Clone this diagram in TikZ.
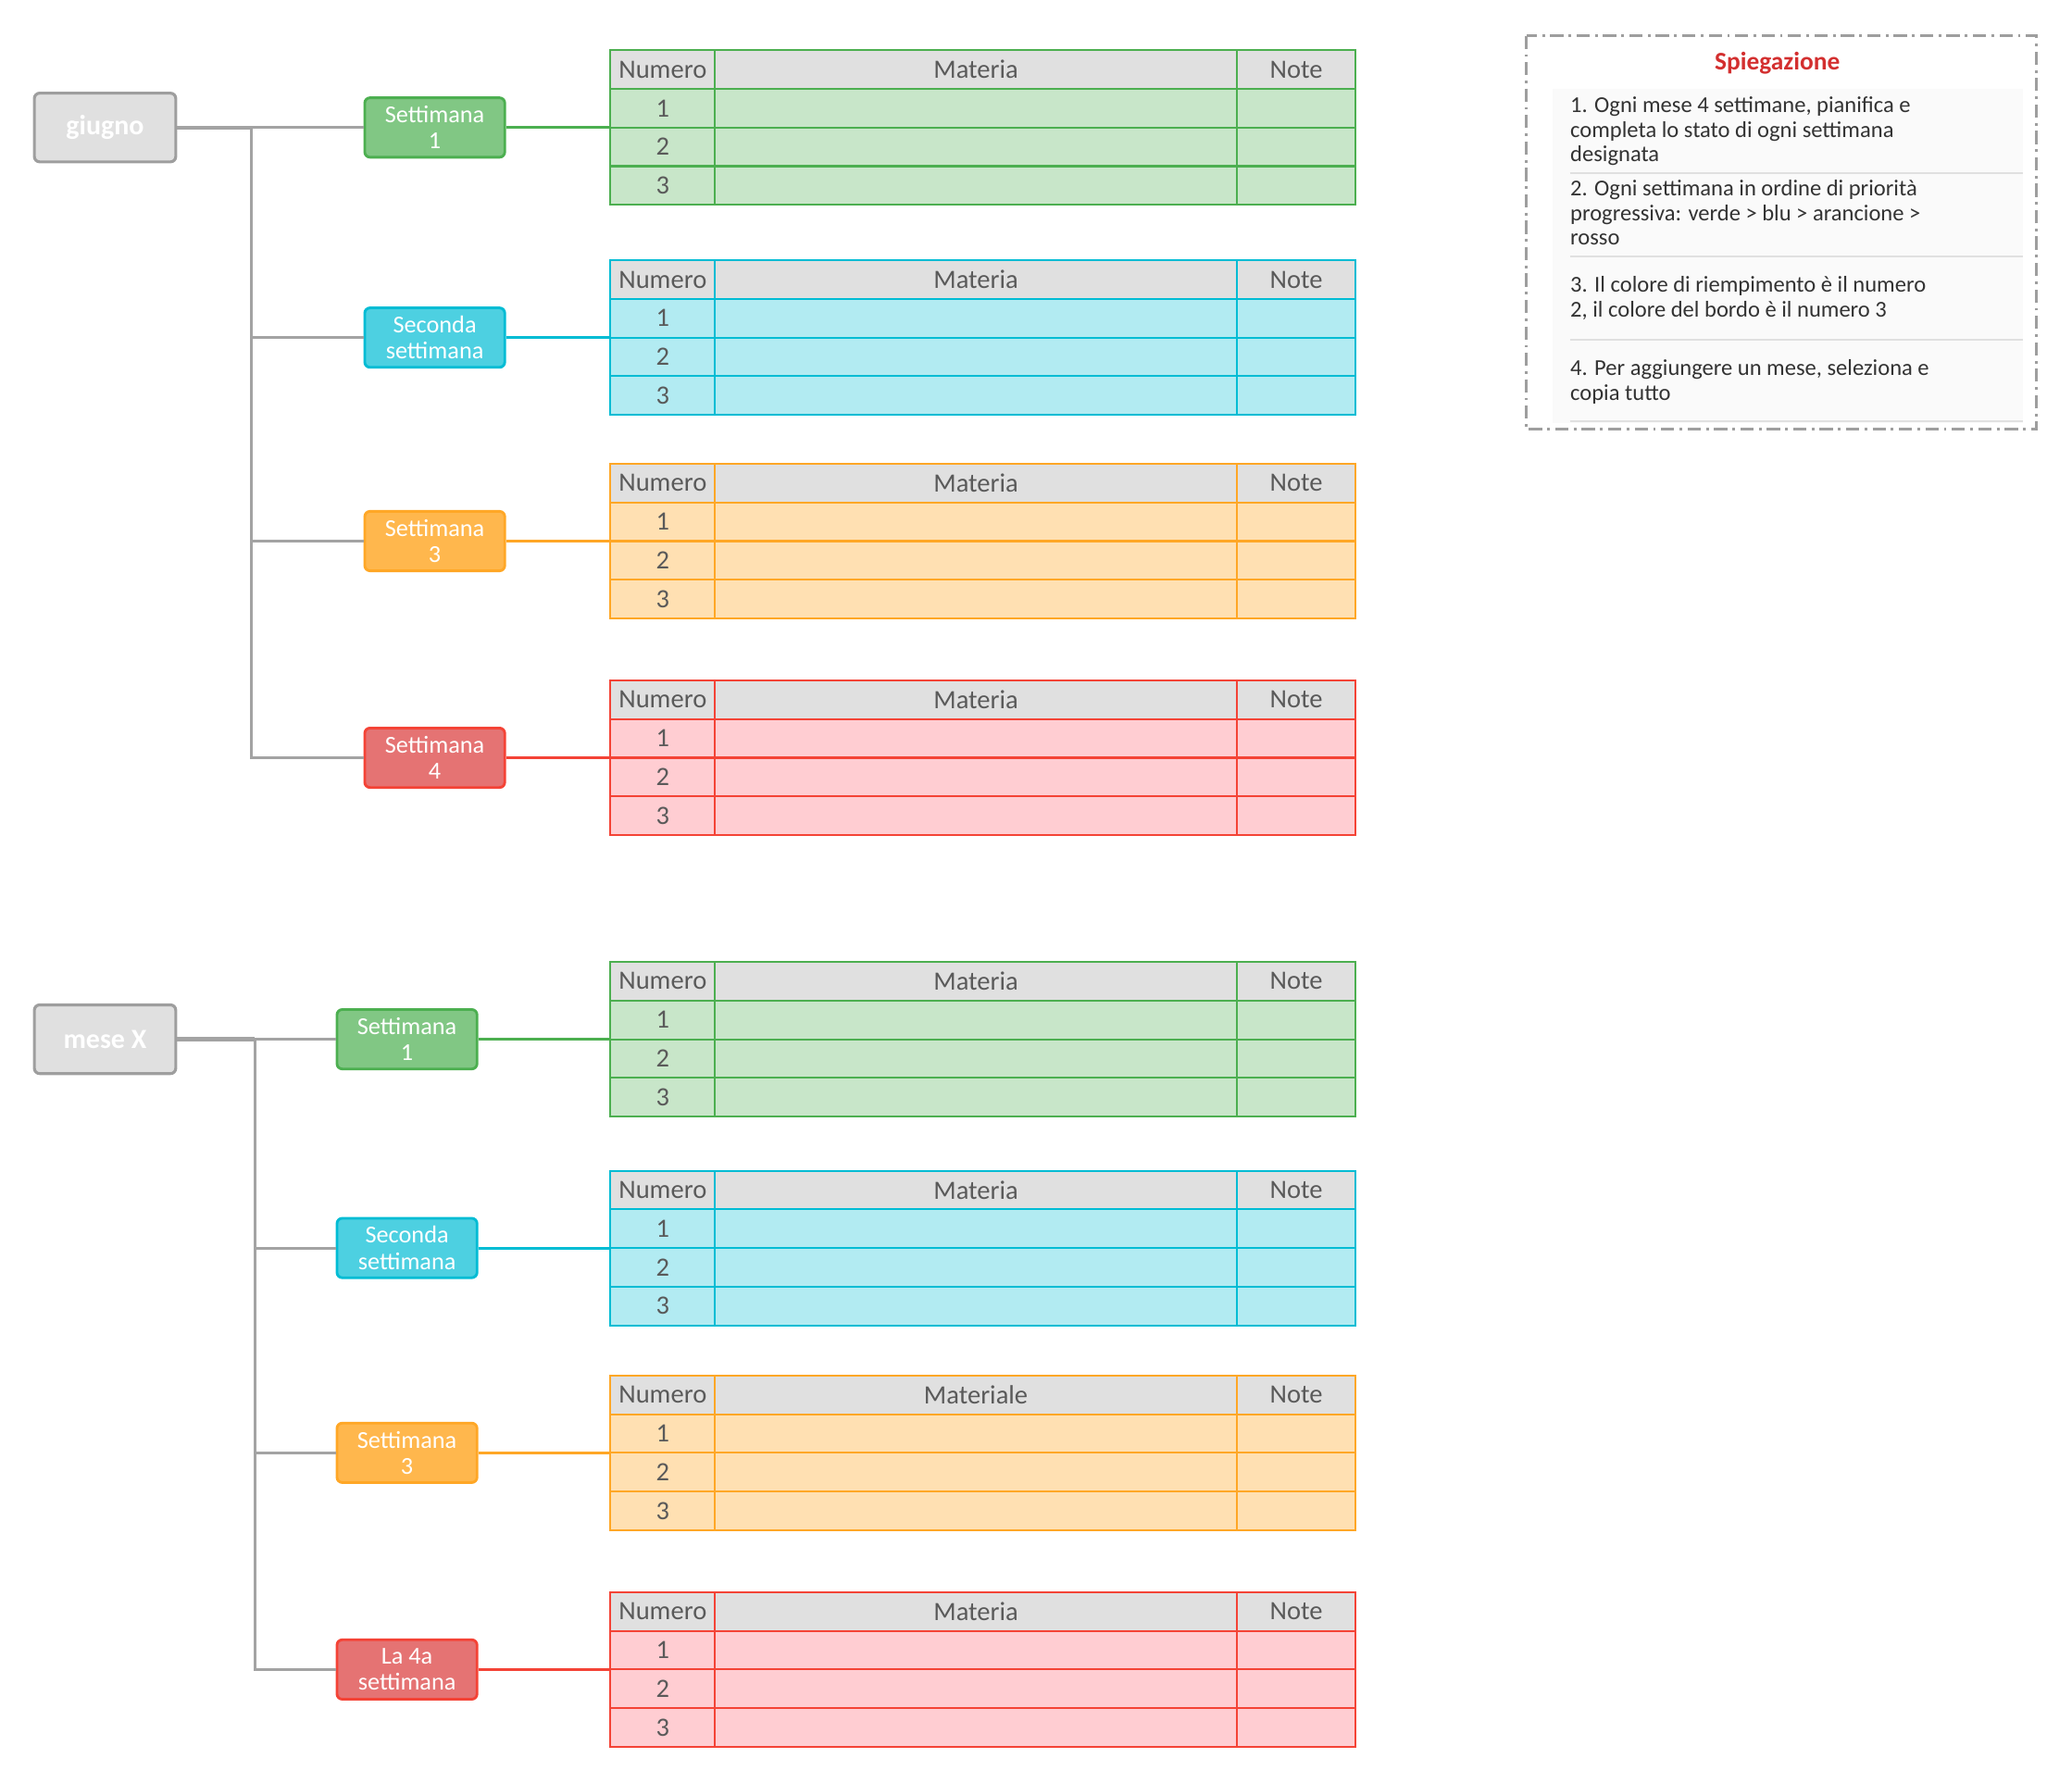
\documentclass[tikz,border=0pt]{standalone}
\usepackage{fontspec}
\setmainfont{Carlito}
\usepackage{xcolor}
\usepackage{tikz}
\usetikzlibrary{positioning,calc}

\definecolor{hdrgray}{HTML}{E0E0E0}
\definecolor{txtgray}{HTML}{5A5A5A}
\definecolor{rootfill}{HTML}{E0E0E0}
\definecolor{rootedge}{HTML}{9E9E9E}
\definecolor{linkgray}{HTML}{A3A3A3}
\definecolor{gBox}{HTML}{81C784}
\definecolor{gLine}{HTML}{4CAF50}
\definecolor{gCell}{HTML}{C8E6C9}
\definecolor{cBox}{HTML}{4DD0E1}
\definecolor{cLine}{HTML}{00BCD4}
\definecolor{cCell}{HTML}{B2EBF2}
\definecolor{oBox}{HTML}{FFB74D}
\definecolor{oLine}{HTML}{FFA726}
\definecolor{oCell}{HTML}{FFE0B2}
\definecolor{rBox}{HTML}{E57373}
\definecolor{rLine}{HTML}{F44336}
\definecolor{rCell}{HTML}{FFCDD2}
\definecolor{noteRed}{HTML}{D32F2F}
\definecolor{noteText}{HTML}{333333}

% one week table: name, top, colour prefix, middle header
\newcommand{\weektab}[4]{%
  \begin{scope}[shift={(0,#2)}]
    \fill[hdrgray] (462,0) rectangle (1026,29.25);
    \fill[#3Cell] (462,29.25) rectangle (1026,117);
    \foreach \k in {1,2,3} \draw[#3Line, tabline] (462,{29.25*\k}) -- (1026,{29.25*\k});
    \draw[#3Line, tabline] (541,0) -- (541,117) (936,0) -- (936,117);
    \draw[#3Line, tabline] (462,0) rectangle (1026,117);
    \node[tabtext] at (501.5,14.6) {Numero};
    \node[tabtext] at (738.5,14.6) {#4};
    \node[tabtext] at (981,14.6) {Note};
    \foreach \k in {1,2,3} \node[tabtext] at (501.5,{29.25*\k+14.6}) {\k};
    \coordinate (#1) at (462,58.5);
  \end{scope}}

\begin{document}
\begin{tikzpicture}[x=0.5pt, y=-0.5pt,
  tabline/.style={line width=0.75pt},
  tabtext/.style={text=txtgray, font=\fontsize{10}{12}\selectfont, inner sep=0pt},
  rootbox/.style={draw=rootedge, fill=rootfill, line width=1.1pt, rounded corners=2pt,
    minimum width=53.5pt, minimum height=26pt, text=white, font=\bfseries\fontsize{10.5}{12}\selectfont},
  weekbox/.style={line width=1pt, rounded corners=2pt, minimum width=53pt, minimum height=22.5pt,
    inner sep=0pt, align=center, text=white, font=\fontsize{9.2}{9.9}\selectfont},
  rootlink/.style={linkgray, line width=1.5pt},
  branch/.style={linkgray, line width=1.1pt},
  link/.style={line width=1pt},
  legtext/.style={anchor=north west, inner sep=0pt, align=left, text=noteText,
    font=\fontsize{8.6}{9.25}\selectfont}]

\useasboundingbox (0,0) rectangle (1568,1349);

% month giugno
\node[rootbox] (giugno) at (79.5,96.5) {giugno};
\coordinate (gtrunk) at (190,96.5);
\node[weekbox, fill=gBox, draw=gLine] (gw1) at (329,96.5) {Settimana\\1};
\node[weekbox, fill=cBox, draw=cLine] (gw2) at (329,255.5) {Seconda\\settimana};
\node[weekbox, fill=oBox, draw=oLine] (gw3) at (329,409.5) {Settimana\\3};
\node[weekbox, fill=rBox, draw=rLine] (gw4) at (329,573.5) {Settimana\\4};
\weektab{gt1}{38}{g}{Materia}
\weektab{gt2}{197}{c}{Materia}
\weektab{gt3}{351}{o}{Materia}
\weektab{gt4}{515}{r}{Materia}
\draw[rootlink] (giugno.east) -- (gtrunk);
\draw[branch] (gtrunk) -- (gw1.west);
\draw[branch] (gtrunk) |- (gw2.west);
\draw[branch] (gtrunk) |- (gw3.west);
\draw[branch] (gtrunk) |- (gw4.west);
\draw[gLine, link] (gw1.east) -- (gt1);
\draw[cLine, link] (gw2.east) -- (gt2);
\draw[oLine, link] (gw3.east) -- (gt3);
\draw[rLine, link] (gw4.east) -- (gt4);

% month X
\node[rootbox] (meseX) at (79.5,786.5) {mese X};
\coordinate (xtrunk) at (193,786.5);
\node[weekbox, fill=gBox, draw=gLine] (xw1) at (308,786.5) {Settimana\\1};
\node[weekbox, fill=cBox, draw=cLine] (xw2) at (308,944.5) {Seconda\\settimana};
\node[weekbox, fill=oBox, draw=oLine] (xw3) at (308,1099.5) {Settimana\\3};
\node[weekbox, fill=rBox, draw=rLine] (xw4) at (308,1263.5) {La 4a\\settimana};
\weektab{xt1}{728}{g}{Materia}
\weektab{xt2}{886}{c}{Materia}
\weektab{xt3}{1041}{o}{Materiale}
\weektab{xt4}{1205}{r}{Materia}
\draw[rootlink] (meseX.east) -- (xtrunk);
\draw[branch] (xtrunk) -- (xw1.west);
\draw[branch] (xtrunk) |- (xw2.west);
\draw[branch] (xtrunk) |- (xw3.west);
\draw[branch] (xtrunk) |- (xw4.west);
\draw[gLine, link] (xw1.east) -- (xt1);
\draw[cLine, link] (xw2.east) -- (xt2);
\draw[oLine, link] (xw3.east) -- (xt3);
\draw[rLine, link] (xw4.east) -- (xt4);

% legend
\draw[rootedge, line width=1pt, dash pattern=on 5pt off 2pt on 1pt off 2pt] (1155,27) rectangle (1541,325);
\fill[black!2] (1175,67) rectangle (1531,320);
\node[text=noteRed, font=\bfseries\fontsize{9.6}{11}\selectfont] (legtitle) at (1345,48) {Spiegazione};
\foreach \yy in {131,194,257,319} \draw[hdrgray, line width=0.6pt] (1188,\yy) -- (1531,\yy);
\node[legtext] (leg1) at (1188,73) {1. Ogni mese 4 settimane, pianifica e\\completa lo stato di ogni settimana\\designata};
\node[legtext] (leg2) at (1188,136) {2. Ogni settimana in ordine di priorità\\progressiva: verde > blu > arancione >\\rosso};
\node[legtext] (leg3) at (1188,209) {3. Il colore di riempimento è il numero\\2, il colore del bordo è il numero 3};
\node[legtext] (leg4) at (1188,272) {4. Per aggiungere un mese, seleziona e\\copia tutto};

\end{tikzpicture}
\end{document}
